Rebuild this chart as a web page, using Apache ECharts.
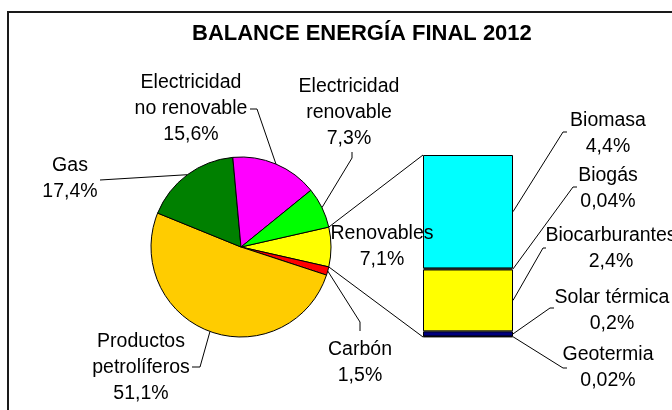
<!DOCTYPE html>
<html><head><meta charset="utf-8">
<script src="https://cdn.jsdelivr.net/npm/echarts@6/dist/echarts.min.js"></script>
<style>html,body{margin:0;padding:0;background:#fff}#c{width:672px;height:410px}</style>
</head><body><div id="c"></div>
<script>
// ---- data ----
const titleText = 'BALANCE ENERGÍA FINAL 2012';
const pieCategories = ['Renovables', 'Carbón', 'Productos\npetrolíferos', 'Gas', 'Electricidad\nno renovable', 'Electricidad\nrenovable'];
const pieValues = [7.1, 1.5, 51.1, 17.4, 15.6, 7.3];
const barCategories = ['Biomasa', 'Biogás', 'Biocarburantes', 'Solar térmica', 'Geotermia'];
const barValues = [4.4, 0.04, 2.4, 0.2, 0.02];

// ---- styles / layout ----
const pieColors = ['#FFFF00', '#FF0000', '#FFCC00', '#008000', '#FF00FF', '#00FF00'];
const barColors = ['#00FFFF', '#1a1a1a', '#FFFF00', '#000080', '#555555'];
const FONT = 'Liberation Sans, Arial, sans-serif';
const pieCenter = [241, 247], pieR = 90;
const pieLabelPos = [
  {x: 382, y: 247},
  {x: 360, y: 363, line: [[360, 322], [360, 331]]},
  {x: 141, y: 368, line: [[200, 367], [192, 367]]},
  {x: 70, y: 179, line: [[100, 180], [100, 180]]},
  {x: 191, y: 109, line: [[257, 109], [250, 109]]},
  {x: 349, y: 113, line: [[352, 158], [352, 152]]}
];
const barLabelPos = [
  {x: 608, y: 134, line: [[563, 132], [567, 132]]},
  {x: 608, y: 189, line: [[573, 187], [577, 187]]},
  {x: 611, y: 249, line: [[543, 248], [546, 248]]},
  {x: 612, y: 311, line: [[550, 308], [554, 308]]},
  {x: 608, y: 368, line: [[563, 368], [567, 368]]}
];
const fmt = v => String(v).replace('.', ',') + '%';

const pieTotal = pieValues.reduce((a, b) => a + b, 0);
const startAngle = 360 * pieValues[0] / pieTotal / 2;
const barTotal = barValues.reduce((a, b) => a + b, 0);

const chart = echarts.init(document.getElementById('c'), null, {renderer: 'canvas'});

const labelStyle = {fontFamily: FONT, fontSize: 19.5, color: '#000', lineHeight: 26};

const barSeries = [];
const barOrder = [];
for (let i = barCategories.length - 1; i >= 0; i--) {
  barOrder.push(i);
  barSeries.push({
    type: 'bar', name: barCategories[i], stack: 'r', barWidth: '100%',
    data: [barValues[i]],
    itemStyle: {color: barColors[i], borderColor: '#000', borderWidth: 1},
    label: Object.assign({show: true, position: 'right', formatter: () => barCategories[i] + '\n' + fmt(barValues[i]), align: 'center'}, labelStyle),
    labelLayout: function () {
      const L = barLabelPos[i];
      return {x: L.x, y: L.y, align: 'center', verticalAlign: 'middle'};
    },
    silent: true, animation: false
  });
}

chart.setOption({
  animation: false,
  title: {text: titleText, left: 187, top: 18, textStyle: {fontFamily: FONT, fontSize: 22, fontWeight: 'bold', color: '#000'}},
  grid: {left: 423, top: 155, width: 90, height: 182},
  xAxis: {type: 'category', data: ['Renovables'], show: false},
  yAxis: {type: 'value', min: 0, max: barTotal, show: false},
  series: [{
    type: 'pie', center: pieCenter, radius: pieR, startAngle: startAngle, clockwise: true,
    data: pieCategories.map((n, i) => ({name: n, value: pieValues[i], itemStyle: {color: pieColors[i]},
      labelLine: {show: i !== 0}})),
    itemStyle: {borderColor: '#000', borderWidth: 1},
    label: Object.assign({show: true, formatter: p => p.name + '\n' + fmt(p.value)}, labelStyle),
    labelLine: {show: true, length: 10, length2: 10, lineStyle: {color: '#000', width: 1}},
    labelLayout: function (p) {
      const L = pieLabelPos[p.dataIndex];
      const res = {x: L.x, y: L.y, align: 'center', verticalAlign: 'middle'};
      if (L.line && p.labelLinePoints) res.labelLinePoints = [p.labelLinePoints[0], L.line[0], L.line[1]];
      return res;
    },
    emphasis: {disabled: true}, silent: true
  }].concat(barSeries)
});

// connector lines from the Renovables slice edges to the bar's corners, and bar label leader lines
const a1 = startAngle * Math.PI / 180;
const a2 = (startAngle - 360 * pieValues[0] / pieTotal) * Math.PI / 180;
const model = chart.getModel();
const lays = barOrder.map((catIdx, k) => ({catIdx, lay: model.getSeriesByIndex(k + 1).getData().getItemLayout(0)}));
const topLay = lays[lays.length - 1].lay, botLay = lays[0].lay;
const barTop = Math.min(topLay.y, topLay.y + topLay.height);
const barBot = Math.max(botLay.y, botLay.y + botLay.height);
const barLeft = Math.min(topLay.x, topLay.x + topLay.width);
const graphics = [
  {type: 'rect', shape: {x: 8, y: 12, width: 720, height: 430}, style: {fill: 'none', stroke: '#1a1a1a', lineWidth: 2}, silent: true},
  {type: 'line', shape: {x1: pieCenter[0] + pieR * Math.cos(a1), y1: pieCenter[1] - pieR * Math.sin(a1), x2: barLeft, y2: barTop}, style: {stroke: '#000', lineWidth: 1}, silent: true},
  {type: 'line', shape: {x1: pieCenter[0] + pieR * Math.cos(a2), y1: pieCenter[1] - pieR * Math.sin(a2), x2: barLeft, y2: barBot}, style: {stroke: '#000', lineWidth: 1}, silent: true}
];
lays.forEach(({catIdx, lay}) => {
  const L = barLabelPos[catIdx];
  const rx = Math.max(lay.x, lay.x + lay.width);
  const my = lay.y + lay.height / 2;
  graphics.push({type: 'polyline', shape: {points: [[rx, my], L.line[0], L.line[1]]}, style: {stroke: '#000', lineWidth: 1, fill: null}, silent: true});
});
chart.setOption({graphic: graphics});
</script></body></html>
